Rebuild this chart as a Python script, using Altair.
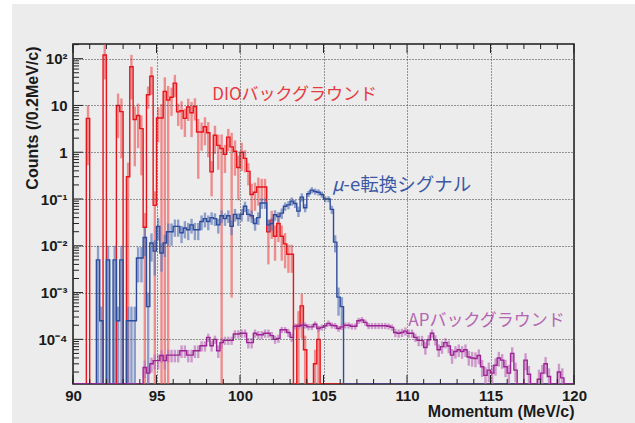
import math
import altair as alt
import pandas as pd

# ---------------- data ----------------
x_min, x_max, bin_w = 90.0, 120.0, 0.2
y_min, y_max = 1.11e-5, 206.0

# DIO background, counts per 0.2 MeV/c bin (150 bins, 90..120)
dio = [0, 0, 0, 0, 5.3, 0, 0, 0, 0, 120,
       0, 0, 0, 10, 7.4, 0, 0.3, 67, 5.0, 6.1,
       3.2, 0.025, 17, 42, 0.073, 5.4, 5.4, 20, 13, 15,
       30, 7.3, 7.7, 5.3, 9.3, 7.0, 9.5, 2.7, 2.7, 3.5,
       2.6, 0.38, 2.3, 1.4, 1.2, 0.9, 2.1, 1.3, 1.05, 0.47,
       1.0, 0.74, 0.39, 0.125, 0.14, 0.18, 0.18, 0.18, 0.02, 0.035,
       0.016, 0.03, 0.016, 0.011, 0.0066, 0.0066, 0, 2e-4, 5.2e-4, 6e-5,
       0, 0, 3e-5, 1e-4, 0, 0, 0, 0, 0, 0,
       0, 0, 0, 0, 0, 0, 0, 0, 0, 0,
       0, 0, 0, 0, 0, 0, 0, 0, 0, 0,
       0, 0, 0, 0, 0, 0, 0, 0, 0, 0,
       0, 0, 0, 0, 0, 0, 0, 0, 0, 0,
       0, 0, 0, 0, 0, 0, 0, 0, 0, 0,
       0, 0, 0, 0, 0, 0, 0, 0, 0, 0,
       0, 0, 0, 0, 0, 0, 0, 0, 0, 0]
dio_rel = [0, 0, 0, 0, 0.9, 0, 0, 0, 0, 0.7,
           0, 0, 0, 0.8, 0.9, 0, 1.0, 0.8, 0.9, 0.8,
           0.9, 1.0, 0.5, 0.6, 1.0, 0.7, 1.0, 1.0, 1.0, 0.6,
           0.5, 0.5, 0.6, 0.6, 0.5, 0.7, 0.5, 0.9, 0.6, 0.6,
           0.7, 0.7, 0.6, 0.7, 1.0, 0.6, 0.5, 0.9994, 0.7, 0.8,
           0.6, 0.5, 0.5, 0.7, 0.6, 0.6, 0.5, 0.5, 0.8, 0.6,
           0.7, 0.6, 0.7, 0.7, 0.6, 0.6, 0, 1.0, 0.8, 1.0,
           0, 0, 1.0, 0.9, 0, 0, 0, 0, 0, 0,
           0, 0, 0, 0, 0, 0, 0, 0, 0, 0,
           0, 0, 0, 0, 0, 0, 0, 0, 0, 0,
           0, 0, 0, 0, 0, 0, 0, 0, 0, 0,
           0, 0, 0, 0, 0, 0, 0, 0, 0, 0,
           0, 0, 0, 0, 0, 0, 0, 0, 0, 0,
           0, 0, 0, 0, 0, 0, 0, 0, 0, 0,
           0, 0, 0, 0, 0, 0, 0, 0, 0, 0]

# mu-e conversion signal
sig = [0, 0, 0, 0, 0, 0, 0, 0.005, 2.5e-4, 0,
       0.005, 0, 0.005, 2.5e-4, 0.005, 0, 2.5e-4, 2.5e-4, 2.5e-4, 0.0055,
       0.0055, 0.015, 5e-4, 0.0115, 0.0077, 0.026, 0.007, 0.0115, 0.02, 0.02,
       0.026, 0.026, 0.019, 0.024, 0.022, 0.028, 0.022, 0.022, 0.033, 0.038,
       0.033, 0.04, 0.038, 0.028, 0.044, 0.038, 0.044, 0.026, 0.047, 0.038,
       0.047, 0.07, 0.047, 0.044, 0.03, 0.04, 0.082, 0.082, 0.028, 0.03,
       0.046, 0.042, 0.05, 0.07, 0.075, 0.09, 0.08, 0.055, 0.11, 0.065,
       0.13, 0.155, 0.145, 0.14, 0.125, 0.1, 0.1, 0.06, 0.012, 8e-4,
       5e-4, 0, 0, 0, 0, 0, 0, 0, 0, 0,
       0, 0, 0, 0, 0, 0, 0, 0, 0, 0,
       0, 0, 0, 0, 0, 0, 0, 0, 0, 0,
       0, 0, 0, 0, 0, 0, 0, 0, 0, 0,
       0, 0, 0, 0, 0, 0, 0, 0, 0, 0,
       0, 0, 0, 0, 0, 0, 0, 0, 0, 0,
       0, 0, 0, 0, 0, 0, 0, 0, 0, 0]
sig_rel = [0, 0, 0, 0, 0, 0, 0, 1.0, 1.0, 0,
           1.0, 0, 1.0, 1.0, 1.0, 0, 1.0, 1.0, 1.0, 0.7,
           0.7, 0.6, 1.0, 0.6, 0.7, 0.5, 0.6, 0.5, 0.5, 0.5,
           0.4, 0.4, 0.4, 0.4, 0.4, 0.35, 0.4, 0.4, 0.35, 0.35,
           0.35, 0.3, 0.3, 0.35, 0.3, 0.3, 0.3, 0.35, 0.3, 0.3,
           0.3, 0.25, 0.3, 0.3, 0.3, 0.3, 0.25, 0.25, 0.3, 0.3,
           0.25, 0.25, 0.25, 0.2, 0.2, 0.2, 0.2, 0.25, 0.2, 0.2,
           0.15, 0.15, 0.15, 0.15, 0.15, 0.15, 0.15, 0.2, 0.4, 0.6,
           0.6, 0, 0, 0, 0, 0, 0, 0, 0, 0,
           0, 0, 0, 0, 0, 0, 0, 0, 0, 0,
           0, 0, 0, 0, 0, 0, 0, 0, 0, 0,
           0, 0, 0, 0, 0, 0, 0, 0, 0, 0,
           0, 0, 0, 0, 0, 0, 0, 0, 0, 0,
           0, 0, 0, 0, 0, 0, 0, 0, 0, 0,
           0, 0, 0, 0, 0, 0, 0, 0, 0, 0]

# AP background
ap = [0, 0, 0, 0, 0, 0, 0, 0, 0, 0,
      0, 0, 0, 0, 0, 0, 0, 0, 0, 0,
      0, 2.5e-5, 1.9e-5, 3e-5, 3.5e-5, 3.5e-5, 4.5e-5, 3.5e-5, 4.6e-5, 4.6e-5,
      4.6e-5, 4.6e-5, 5.7e-5, 5.7e-5, 4.6e-5, 4.6e-5, 5.7e-5, 5.7e-5, 7.3e-5, 7.3e-5,
      1.1e-4, 7.3e-5, 1.0e-4, 5.7e-5, 8.5e-5, 9.5e-5, 9.5e-5, 9.5e-5, 1.3e-4, 1.3e-4,
      1.35e-4, 1.35e-4, 8.5e-5, 8.5e-5, 1.35e-4, 1.25e-4, 1.25e-4, 1.35e-4, 1.35e-4, 1.2e-4,
      1.0e-4, 1.05e-4, 1.6e-4, 1.6e-4, 1.4e-4, 1.1e-4, 1.9e-4, 1.9e-4, 2.0e-4, 2.0e-4,
      1.85e-4, 1.85e-4, 2.1e-4, 1.7e-4, 1.8e-4, 1.95e-4, 2.2e-4, 2.0e-4, 1.95e-4, 1.7e-4,
      1.85e-4, 2.0e-4, 2.0e-4, 1.9e-4, 1.9e-4, 2.5e-4, 2.6e-4, 2.3e-4, 1.95e-4, 1.95e-4,
      1.95e-4, 1.95e-4, 1.95e-4, 1.95e-4, 1.9e-4, 1.8e-4, 1.4e-4, 1.35e-4, 1.4e-4, 1.5e-4,
      1.35e-4, 1.35e-4, 1.1e-4, 9.5e-5, 9.5e-5, 6.7e-5, 9.8e-5, 1.35e-4, 9.8e-5, 6e-5,
      7e-5, 8.5e-5, 7.2e-5, 4.6e-5, 5.5e-5, 6e-5, 5.5e-5, 6e-5, 4.2e-5, 4e-5,
      3.9e-5, 4.5e-5, 2.6e-5, 1.7e-5, 2.2e-5, 1.9e-5, 2.8e-5, 4e-5, 3.6e-5, 2.6e-5,
      1.9e-5, 5e-5, 2.2e-5, 0, 0, 3.6e-5, 1.8e-5, 0, 0, 1.4e-5,
      1.9e-5, 3e-5, 1.6e-5, 0, 0, 2e-5, 1.5e-5, 0, 0, 0]
ap_rel = [0, 0, 0, 0, 0, 0, 0, 0, 0, 0,
          0, 0, 0, 0, 0, 0, 0, 0, 0, 0,
          0, 0.4, 0.4, 0.35, 0.35, 0.35, 0.3, 0.35, 0.3, 0.3,
          0.3, 0.3, 0.3, 0.3, 0.3, 0.3, 0.3, 0.3, 0.25, 0.25,
          0.2, 0.25, 0.2, 0.3, 0.25, 0.2, 0.2, 0.2, 0.2, 0.2,
          0.2, 0.2, 0.25, 0.25, 0.2, 0.2, 0.2, 0.2, 0.2, 0.2,
          0.2, 0.2, 0.15, 0.15, 0.2, 0.2, 0.15, 0.15, 0.15, 0.15,
          0.15, 0.15, 0.15, 0.15, 0.15, 0.15, 0.15, 0.15, 0.15, 0.15,
          0.15, 0.15, 0.15, 0.15, 0.15, 0.15, 0.15, 0.15, 0.15, 0.15,
          0.15, 0.15, 0.15, 0.15, 0.15, 0.15, 0.2, 0.2, 0.2, 0.2,
          0.2, 0.2, 0.2, 0.25, 0.25, 0.3, 0.25, 0.2, 0.25, 0.3,
          0.3, 0.25, 0.3, 0.35, 0.3, 0.3, 0.3, 0.3, 0.35, 0.35,
          0.35, 0.35, 0.4, 0.5, 0.45, 0.5, 0.4, 0.35, 0.35, 0.4,
          0.5, 0.35, 0.45, 0, 0, 0.4, 0.5, 0, 0, 0.6,
          0.5, 0.4, 0.5, 0, 0, 0.5, 0.6, 0, 0, 0]

x_major = [90, 95, 100, 105, 110, 115, 120]
x_minor = [90, 91, 92, 93, 94, 96, 97, 98, 99, 101, 102, 103, 104, 106, 107, 108, 109,
           111, 112, 113, 114, 116, 117, 118, 119]
y_major = [1e-4, 1e-3, 1e-2, 1e-1, 1, 10, 100]
y_major_labels = ["10⁻⁴", "10⁻³", "10⁻²", "10⁻¹", "1", "10", "10²"]
y_minor = [k * 10.0 ** e for e in range(-5, 3) for k in range(2, 10)
           if y_min <= k * 10.0 ** e <= y_max]

notes_text = ["DIOバックグラウンド", "μ", "-e転換シグナル", "APバックグラウンド"]
notes_x = [98.34, 105.51, 106.2, 110.08]
notes_y = [13.3, 0.151, 0.151, 1.96e-4]
notes_size = [17, 18.5, 18.5, 17]
notes_color = ["#e63a3f", "#3b58a6", "#3b58a6", "#b466b3"]
notes_style = ["normal", "italic", "normal", "normal"]

# ---------------- build tables ----------------
def hist_tables(vals, rel):
    lo = [x_min + bin_w * i for i in range(len(vals))]
    df = pd.DataFrame({"lo": lo, "v": vals, "rel": rel})
    df["c"] = df["lo"] + bin_w / 2
    df["vp"] = df["v"].clip(lower=y_min)
    df["elo"] = (df["v"] * (1 - df["rel"])).clip(lower=y_min)
    df["ehi"] = (df["v"] * (1 + df["rel"])).clip(lower=y_min, upper=y_max)
    step = pd.concat([df[["lo", "vp"]],
                      pd.DataFrame({"lo": [x_max], "vp": [df["vp"].iloc[-1]]})],
                     ignore_index=True)
    err = df[(df["v"] > 0) & (df["rel"] > 0)].reset_index(drop=True)
    return step, err

W, H = 501, 340
xs = alt.Scale(domain=[x_min, x_max], nice=False, zero=False)
ys = alt.Scale(type="log", domain=[y_min, y_max], nice=False, clamp=True)

FONT = "Liberation Sans"
TXT = "#1a1a1a"
e = "round(log(datum.value)/LN10)"
parts = [f"{e} == {int(round(math.log10(v)))} ? '{lab}'"
         for v, lab in zip(y_major, y_major_labels)]
label_expr = " : ".join(parts) + " : ''"

x_axis = alt.Axis(values=x_major, format="d", labelFont=FONT, labelFontWeight="bold",
                  labelFontSize=15, labelColor=TXT, labelPadding=4, ticks=False,
                  domain=False, grid=True, gridDash=[1, 2], gridColor="#3a3a3a",
                  gridWidth=1, labelFlush=False, zindex=1,
                  title="Momentum (MeV/c)", titleFont=FONT, titleFontWeight="bold",
                  titleFontSize=16, titleColor=TXT, titleAnchor="end",
                  titleAlign="right", titleBaseline="alphabetic", titleX=W, titleY=32)
y_axis = alt.Axis(values=y_major, labelExpr=label_expr, labelFont=FONT,
                  labelFontWeight="bold", labelFontSize=15, labelColor=TXT,
                  labelPadding=6, ticks=False, domain=False, grid=True, gridDash=[1, 2],
                  gridColor="#3a3a3a", gridWidth=1, labelFlush=False, zindex=1,
                  title="Counts (/0.2MeV/c)", titleFont=FONT, titleFontWeight="bold",
                  titleFontSize=16, titleColor=TXT, titleAnchor="end",
                  titleAngle=270, titleAlign="right", titleBaseline="middle",
                  titleX=-41, titleY=2)

def X(field):
    return alt.X(f"{field}:Q", scale=xs, axis=x_axis)

def Y(field):
    return alt.Y(f"{field}:Q", scale=ys, axis=y_axis)

one = pd.DataFrame({"a": [0]})
bg = alt.Chart(one).mark_rect(color="#ececec").encode(
    x=alt.value(-61), x2=alt.value(W + 61), y=alt.value(-40), y2=alt.value(H + 39))
frame = alt.Chart(one).mark_rect(filled=False, stroke="#1a1a1a", strokeWidth=1.5).encode(
    x=alt.value(0), x2=alt.value(W), y=alt.value(0), y2=alt.value(H))

grid_holder = alt.Chart(pd.DataFrame({"x": x_major, "y": y_major})).mark_point(
    opacity=0).encode(x=X("x"), y=Y("y"))

layers = [bg, frame, grid_holder]

series = [(dio, dio_rel, "#e8141c", "#ee5a5a"),
          (sig, sig_rel, "#2d4c9c", "#5a74b8"),
          (ap, ap_rel, "#9c2494", "#bd6cb8")]
for vals, rel, col, ecol in series:
    step, err = hist_tables(vals, rel)
    layers.append(alt.Chart(err).mark_rule(color=ecol, strokeWidth=2.4, opacity=0.65,
                                           clip=True).encode(
        x=X("c"), y=Y("elo"), y2="ehi"))
    layers.append(alt.Chart(step).mark_line(color=col, strokeWidth=1.4,
                                            interpolate="step-after", clip=True).encode(
        x=X("lo"), y=Y("vp")))

# inside ticks (ROOT style)
xt_major = pd.DataFrame({"x": x_major})
xt_minor = pd.DataFrame({"x": x_minor})
tick_col = "#222222"
for df_t, L in [(xt_major, 9), (xt_minor, 5)]:
    layers.append(alt.Chart(df_t).mark_rule(color=tick_col, strokeWidth=1).encode(
        x=X("x"), y=alt.value(H), y2=alt.value(H - L)))
    layers.append(alt.Chart(df_t).mark_rule(color=tick_col, strokeWidth=1).encode(
        x=X("x"), y=alt.value(0), y2=alt.value(L)))
for df_t, L in [(pd.DataFrame({"y": y_major}), 10), (pd.DataFrame({"y": y_minor}), 6)]:
    layers.append(alt.Chart(df_t).mark_rule(color=tick_col, strokeWidth=1).encode(
        y=Y("y"), x=alt.value(0), x2=alt.value(L)))

notes = pd.DataFrame({"t": notes_text, "x": notes_x, "y": notes_y})
for i in range(len(notes)):
    layers.append(alt.Chart(notes.iloc[[i]]).mark_text(
        align="left", baseline="alphabetic", font="Noto Sans CJK JP",
        fontSize=notes_size[i], color=notes_color[i], fontStyle=notes_style[i]).encode(
        x=X("x"), y=Y("y"), text="t:N"))

chart = alt.layer(*layers).properties(
    width=W, height=H,
    autosize=alt.AutoSizeParams(type="none"),
    padding={"left": 73, "top": 44, "right": 61, "bottom": 39},
    background="white",
).configure_view(stroke=None, fill=None)

chart.save("out.html", embed_options={"renderer": "svg", "actions": False})
